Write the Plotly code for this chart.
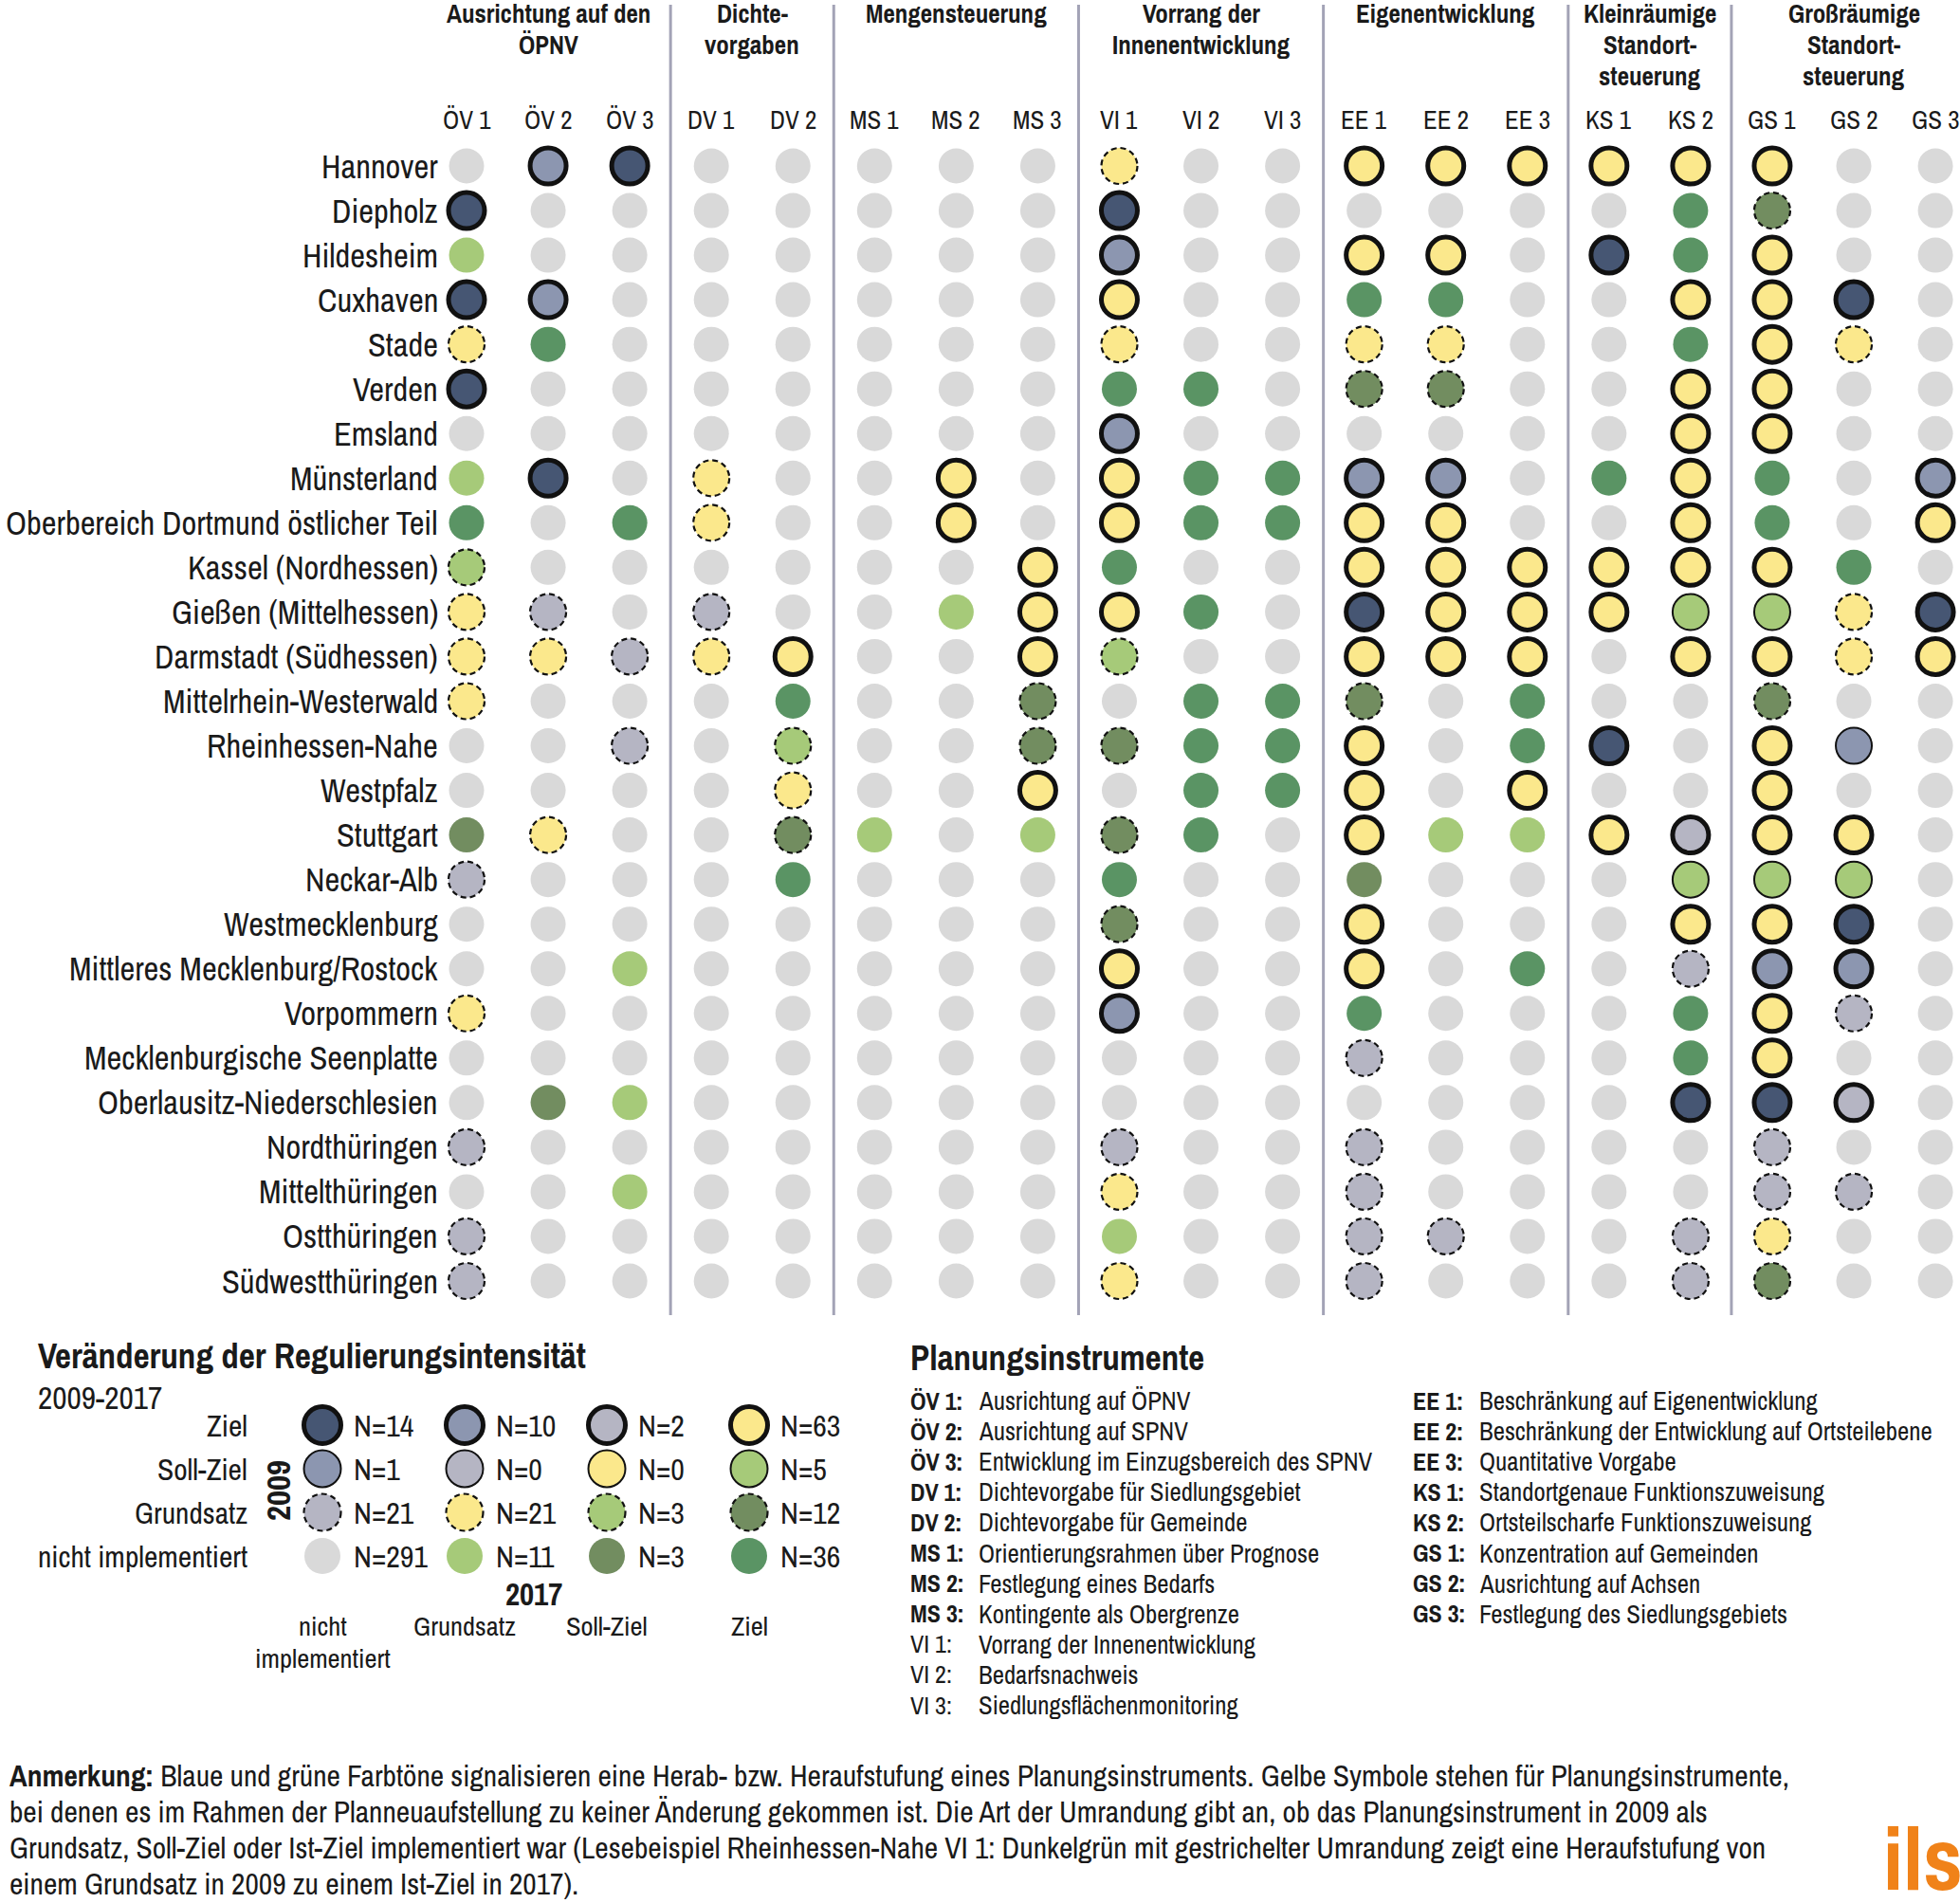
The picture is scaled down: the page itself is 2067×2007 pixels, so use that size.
import plotly.graph_objects as go

W, H = 2067, 2007
OFF = 0                      # body margin is removed by the post script below
FW, FH = W - OFF, H - OFF

# ---------------- data ----------------
regions = [
    "Hannover", "Diepholz", "Hildesheim", "Cuxhaven", "Stade", "Verden", "Emsland",
    "Münsterland", "Oberbereich Dortmund östlicher Teil", "Kassel (Nordhessen)",
    "Gießen (Mittelhessen)", "Darmstadt (Südhessen)", "Mittelrhein-Westerwald",
    "Rheinhessen-Nahe", "Westpfalz", "Stuttgart", "Neckar-Alb", "Westmecklenburg",
    "Mittleres Mecklenburg/Rostock", "Vorpommern", "Mecklenburgische Seenplatte",
    "Oberlausitz-Niederschlesien", "Nordthüringen", "Mittelthüringen", "Ostthüringen",
    "Südwestthüringen",
]

instruments = ["ÖV 1", "ÖV 2", "ÖV 3", "DV 1", "DV 2", "MS 1", "MS 2", "MS 3",
               "VI 1", "VI 2", "VI 3", "EE 1", "EE 2", "EE 3", "KS 1", "KS 2",
               "GS 1", "GS 2", "GS 3"]

group_titles = ["Ausrichtung auf den<br>ÖPNV", "Dichte-<br>vorgaben", "Mengensteuerung",
                "Vorrang der<br>Innenentwicklung", "Eigenentwicklung",
                "Kleinräumige<br>Standort-<br>steuerung", "Großräumige<br>Standort-<br>steuerung"]
group_sizes = [3, 2, 3, 3, 3, 2, 3]

# per region: one code "ab" per instrument; a = level 2009, b = level 2017
# levels: 0 = nicht implementiert, 1 = Grundsatz, 2 = Soll-Ziel, 3 = Ziel
changes = [
    "00 31 30 00 00 00 00 00 11 00 00 33 33 33 33 33 33 00 00",  # Hannover
    "30 00 00 00 00 00 00 00 30 00 00 00 00 00 00 03 13 00 00",  # Diepholz
    "01 00 00 00 00 00 00 00 31 00 00 33 33 00 30 03 33 00 00",  # Hildesheim
    "30 31 00 00 00 00 00 00 33 00 00 03 03 00 00 33 33 30 00",  # Cuxhaven
    "11 03 00 00 00 00 00 00 11 00 00 11 11 00 00 03 33 11 00",  # Stade
    "30 00 00 00 00 00 00 00 03 03 00 13 13 00 00 33 33 00 00",  # Verden
    "00 00 00 00 00 00 00 00 31 00 00 00 00 00 00 33 33 00 00",  # Emsland
    "01 30 00 11 00 00 33 00 33 03 03 31 31 00 03 33 03 00 31",  # Münsterland
    "03 00 03 11 00 00 33 00 33 03 03 33 33 00 00 33 03 00 33",  # Dortmund
    "12 00 00 00 00 00 00 33 03 00 00 33 33 33 33 33 33 03 00",  # Kassel
    "11 10 00 10 00 00 01 33 33 03 00 30 33 33 33 23 23 11 30",  # Gießen
    "11 11 10 11 33 00 00 33 12 00 00 33 33 33 00 33 33 11 33",  # Darmstadt
    "11 00 00 00 03 00 00 13 00 03 03 13 00 03 00 00 13 00 00",  # Mittelrhein-Westerwald
    "00 00 10 00 12 00 00 13 13 03 03 33 00 03 30 00 33 20 00",  # Rheinhessen-Nahe
    "00 00 00 00 11 00 00 33 00 03 03 33 00 33 00 00 33 00 00",  # Westpfalz
    "02 11 00 00 13 01 00 01 13 03 00 33 01 01 33 32 33 33 00",  # Stuttgart
    "10 00 00 00 03 00 00 00 03 00 00 02 00 00 00 23 23 23 00",  # Neckar-Alb
    "00 00 00 00 00 00 00 00 13 00 00 33 00 00 00 33 33 30 00",  # Westmecklenburg
    "00 00 01 00 00 00 00 00 33 00 00 33 00 03 00 10 31 31 00",  # Rostock
    "11 00 00 00 00 00 00 00 31 00 00 03 00 00 00 03 33 10 00",  # Vorpommern
    "00 00 00 00 00 00 00 00 00 00 00 10 00 00 00 03 33 00 00",  # Seenplatte
    "00 02 01 00 00 00 00 00 00 00 00 00 00 00 00 30 30 32 00",  # Oberlausitz
    "10 00 00 00 00 00 00 00 10 00 00 10 00 00 00 00 10 00 00",  # Nordthüringen
    "00 00 01 00 00 00 00 00 11 00 00 10 00 00 00 00 10 10 00",  # Mittelthüringen
    "10 00 00 00 00 00 00 00 01 00 00 10 10 00 00 10 11 00 00",  # Ostthüringen
    "10 00 00 00 00 00 00 00 11 00 00 10 00 00 00 10 13 00 00",  # Südwestthüringen
]

level_names = ["nicht implementiert", "Grundsatz", "Soll-Ziel", "Ziel"]
# legend counts: rows = level 2009 (Ziel, Soll-Ziel, Grundsatz, nicht impl.), cols = level 2017 (0..3)
legend_counts = [
    [14, 10, 2, 63],
    [1, 0, 0, 5],
    [21, 21, 3, 12],
    [291, 11, 3, 36],
]

instr_codes_left = ["ÖV 1:", "ÖV 2:", "ÖV 3:", "DV 1:", "DV 2:", "MS 1:", "MS 2:", "MS 3:",
                    "VI 1:", "VI 2:", "VI 3:"]
instr_desc_left = ["Ausrichtung auf ÖPNV", "Ausrichtung auf SPNV",
                   "Entwicklung im Einzugsbereich des SPNV", "Dichtevorgabe für Siedlungsgebiet",
                   "Dichtevorgabe für Gemeinde", "Orientierungsrahmen über Prognose",
                   "Festlegung eines Bedarfs", "Kontingente als Obergrenze",
                   "Vorrang der Innenentwicklung", "Bedarfsnachweis", "Siedlungsflächenmonitoring"]
instr_codes_right = ["EE 1:", "EE 2:", "EE 3:", "KS 1:", "KS 2:", "GS 1:", "GS 2:", "GS 3:"]
instr_desc_right = ["Beschränkung auf Eigenentwicklung",
                    "Beschränkung der Entwicklung auf Ortsteilebene", "Quantitative Vorgabe",
                    "Standortgenaue Funktionszuweisung", "Ortsteilscharfe Funktionszuweisung",
                    "Konzentration auf Gemeinden", "Ausrichtung auf Achsen",
                    "Festlegung des Siedlungsgebiets"]

note_lines = [
    "<b>Anmerkung:</b> Blaue und grüne Farbtöne signalisieren eine Herab- bzw. Heraufstufung eines Planungsinstruments. Gelbe Symbole stehen für Planungsinstrumente,",
    "bei denen es im Rahmen der Planneuaufstellung zu keiner Änderung gekommen ist. Die Art der Umrandung gibt an, ob das Planungsinstrument in 2009 als",
    "Grundsatz, Soll-Ziel oder Ist-Ziel implementiert war (Lesebeispiel Rheinhessen-Nahe VI 1: Dunkelgrün mit gestrichelter Umrandung zeigt eine Heraufstufung von",
    "einem Grundsatz in 2009 zu einem Ist-Ziel in 2017).",
]

# ---------------- styles ----------------
FONT = "Liberation Sans Narrow, Arial Narrow, Archivo Narrow, Liberation Sans, sans-serif"
TXT = "#1a1a1a"
GREY = "#d9d9d9"
SHIFT_COLORS = {-3: "#465673", -2: "#8c96b0", -1: "#b5b5c3", 0: "#fbe88c",
                1: "#a6ca79", 2: "#728d60", 3: "#5a9464"}
SEP_COLOR = "#a3a3b6"


def fill_color(a, b):
    if a == 0 and b == 0:
        return GREY
    return SHIFT_COLORS[b - a]


def marker_style(a):
    # border according to level 2009
    if a == 3:
        return dict(size=38, line=dict(color="#111111", width=5))
    if a == 2:
        return dict(size=38, line=dict(color="#111111", width=2))
    if a == 1:
        return dict(size=38, line=dict(width=0))
    return dict(size=37, line=dict(width=0))


# grid geometry (window pixels)
X0, DX = 492, 86.06
Y0, DY = 175, 47.04
# legend geometry (window pixels)
LX0, LDX = 340, 150
LY0, LDY = 1641, 46


def P(px, py):
    return (px - OFF) / FW, 1 - (py - OFF) / FH


fig = go.Figure()
shapes = []
annotations = []

# ---------------- grid markers ----------------
groups = {}
for r, row in enumerate(changes):
    for c, code in enumerate(row.split()):
        a, b = int(code[0]), int(code[1])
        groups.setdefault((a, b), []).append((c, r))

for (a, b), pts in sorted(groups.items()):
    st = marker_style(a)
    fig.add_trace(go.Scatter(
        x=[p[0] for p in pts], y=[p[1] for p in pts], mode="markers",
        marker=dict(symbol="circle", color=fill_color(a, b), size=st["size"], line=st["line"]),
        xaxis="x", yaxis="y", hoverinfo="skip", showlegend=False, cliponaxis=False))
    if a == 1:
        for (c, r) in pts:
            shapes.append(dict(type="circle", xref="x", yref="y", xsizemode="pixel",
                               ysizemode="pixel", xanchor=c, yanchor=r,
                               x0=-19, x1=19, y0=-19, y1=19,
                               line=dict(color="#111111", width=2.2, dash="6px,4px"),
                               fillcolor="rgba(0,0,0,0)", layer="above"))

# ---------------- legend markers ----------------
for i, counts in enumerate(legend_counts):
    a = 3 - i
    for b, n in enumerate(counts):
        st = marker_style(a)
        size = st["size"] + 1
        fig.add_trace(go.Scatter(
            x=[b], y=[a], mode="markers",
            marker=dict(symbol="circle", color=fill_color(a, b), size=size, line=st["line"]),
            xaxis="x2", yaxis="y2", hoverinfo="skip", showlegend=False, cliponaxis=False))
        if a == 1:
            shapes.append(dict(type="circle", xref="x2", yref="y2", xsizemode="pixel",
                               ysizemode="pixel", xanchor=b, yanchor=a,
                               x0=-19.5, x1=19.5, y0=-19.5, y1=19.5,
                               line=dict(color="#111111", width=2.2, dash="6px,4px"),
                               fillcolor="rgba(0,0,0,0)", layer="above"))
        annotations.append(dict(xref="x2", yref="y2", x=b, y=a, xshift=31, xanchor="left",
                                yanchor="middle", text=f"N={n}", showarrow=False,
                                font=dict(family=FONT, size=32, color=TXT)))

# ---------------- separators ----------------
pos = 0
for gsize in group_sizes[:-1]:
    pos += gsize
    shapes.append(dict(type="line", xref="x", yref="paper", x0=pos - 0.5, x1=pos - 0.5,
                       y0=P(0, 1387)[1], y1=P(0, 5)[1],
                       line=dict(color=SEP_COLOR, width=3), layer="below"))

# ---------------- group headers ----------------
start = 0
for title, gsize in zip(group_titles, group_sizes):
    center = start + (gsize - 1) / 2
    start += gsize
    for k, line in enumerate(title.split("<br>")):
        annotations.append(dict(xref="x", yref="paper", x=center, y=P(0, 14 + 33 * k)[1],
                                xanchor="center", yanchor="middle", text=f"<b>{line}</b>",
                                showarrow=False, font=dict(family=FONT, size=27, color=TXT)))

# ---------------- column labels ----------------
for c, name in enumerate(instruments):
    annotations.append(dict(xref="x", yref="y", x=c, y=0, yshift=49, xanchor="center",
                            yanchor="middle", text=name, showarrow=False,
                            font=dict(family=FONT, size=27, color=TXT)))

# ---------------- row labels ----------------
for r, name in enumerate(regions):
    annotations.append(dict(xref="x", yref="y", x=0, y=r, xshift=-28, xanchor="right",
                            yanchor="middle", text=name, showarrow=False,
                            font=dict(family=FONT, size=34.5, color=TXT)))

# ---------------- legend texts ----------------
def ptext(px, py, text, size, anchor="left", bold=False, angle=0, color=TXT):
    x, y = P(px, py)
    annotations.append(dict(xref="paper", yref="paper", x=x, y=y, xanchor=anchor,
                            yanchor="middle", text=f"<b>{text}</b>" if bold else text,
                            showarrow=False, textangle=angle,
                            font=dict(family=FONT, size=size, color=color)))


ptext(38, 1430, "Veränderung der Regulierungsintensität", 37, bold=True)
ptext(38, 1473, "2009-2017", 33.5)
for i, name in enumerate(level_names):
    annotations.append(dict(xref="paper", yref="y2", x=P(263, 0)[0], y=i, xanchor="right",
                            yanchor="middle", text=name, showarrow=False,
                            font=dict(family=FONT, size=31.5, color=TXT)))
ptext(293, 1572, "2009", 35, anchor="center", bold=True, angle=-90)
ptext(563, 1681, "2017", 33, anchor="center", bold=True)
for b, name in enumerate(level_names):
    lines = ["nicht", "implementiert"] if b == 0 else [name]
    for k, ln in enumerate(lines):
        annotations.append(dict(xref="x2", yref="paper", x=b, y=P(0, 1715 + 34 * k)[1],
                                xanchor="center", yanchor="middle", text=ln, showarrow=False,
                                font=dict(family=FONT, size=28.5, color=TXT)))

# ---------------- instruments list ----------------
ptext(958, 1432, "Planungsinstrumente", 37, bold=True)
for i, (code, desc) in enumerate(zip(instr_codes_left, instr_desc_left)):
    py = 1477 + 32.1 * i
    ptext(958, py, code, 26, bold=not code.startswith("VI"))
    ptext(1030, py, desc, 26.8)
for i, (code, desc) in enumerate(zip(instr_codes_right, instr_desc_right)):
    py = 1477 + 32.1 * i
    ptext(1488, py, code, 26, bold=True)
    ptext(1558, py, desc, 26.8)

# ---------------- note ----------------
for k, ln in enumerate(note_lines):
    ptext(8, 1872 + 38.3 * k, ln, 31.5)

# logo
ptext(2028, 1960, "ils", 92, anchor="center", bold=True, color="#f08219")

# ---------------- layout ----------------
axis_common = dict(visible=False, showgrid=False, zeroline=False, fixedrange=True)
fig.update_layout(
    width=FW, height=FH, autosize=False,
    margin=dict(l=0, r=0, t=0, b=0, pad=0),
    paper_bgcolor="white", plot_bgcolor="rgba(0,0,0,0)",
    xaxis=dict(domain=[0, 1], range=[(OFF - X0) / DX, (W - X0) / DX], anchor="y", **axis_common),
    yaxis=dict(domain=[0, 1], range=[(H - Y0) / DY, (OFF - Y0) / DY], anchor="x", **axis_common),
    xaxis2=dict(domain=[0, 1], range=[(OFF - LX0) / LDX, (W - LX0) / LDX], anchor="y2", **axis_common),
    yaxis2=dict(domain=[0, 1], range=[(LY0 - H) / LDY, (LY0 - OFF) / LDY], anchor="x2", **axis_common),
    shapes=shapes, annotations=annotations, showlegend=False,
)

fig.write_html("out.html", config=dict(displayModeBar=False),
               post_script="document.body.style.margin='0px';document.body.style.overflow='hidden';")
